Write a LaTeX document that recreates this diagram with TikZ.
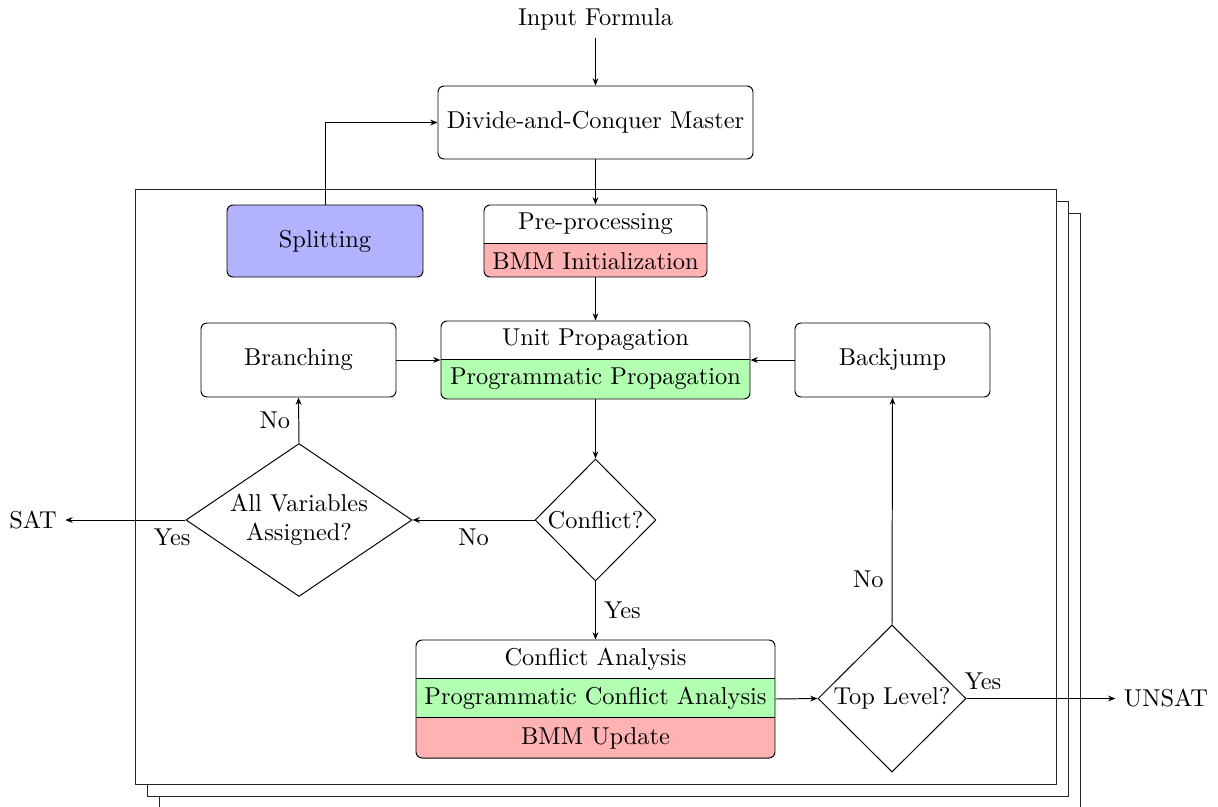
\documentclass[tikz,border=0pt]{standalone}
\usetikzlibrary{arrows.meta,shapes.geometric,fit}
\begin{document}
\begin{tikzpicture}[x=0.41pt,y=-0.41pt,
  arr/.style={-{Stealth[length=3pt,width=2.4pt]}},
  box/.style={draw, rounded corners=2.5pt, inner sep=0pt},
  frame/.style={draw=black!85, fill=white, line width=0.4pt},
  diam/.style={draw, diamond, inner sep=0pt}]
\useasboundingbox (0,0) rectangle (1218,806);

% stacked frames
\draw[frame] (159,213) rectangle (1080,808);
\draw[frame] (147,201) rectangle (1068,796);
\draw[frame] (135,189) rectangle (1056,784);

% input
\node (in) at (595.5,19) {Input Formula};

% master
\coordinate (m1) at (438,86); \coordinate (m2) at (753,159);
\node[box, fit=(m1)(m2)] (master) {};
\node (mastert) at (master.center) {Divide-and-Conquer Master};

% splitting
\coordinate (s1) at (227,205); \coordinate (s2) at (423,277);
\node[box, fill=blue!30, fit=(s1)(s2)] (split) {};
\node (splitt) at (split.center) {Splitting};

% pre-processing (split)
\coordinate (p1) at (484,205); \coordinate (p2) at (707,277);
\begin{scope}
  \clip[rounded corners=2.5pt] (p1) rectangle (p2);
  \fill[red!30] (484,243) rectangle (707,277);
\end{scope}
\node[box, fit=(p1)(p2)] (pre) {};
\draw (484,243) -- (707,243);
\node (preA) at (595.5,224) {Pre-processing};
\node (preB) at (595.5,261) {BMM Initialization};

% unit propagation (split)
\coordinate (u1) at (441,321); \coordinate (u2) at (750,399);
\begin{scope}
  \clip[rounded corners=2.5pt] (u1) rectangle (u2);
  \fill[green!30] (441,359) rectangle (750,399);
\end{scope}
\node[box, fit=(u1)(u2)] (up) {};
\draw (441,359) -- (750,359);
\node (upA) at (595.5,340) {Unit Propagation};
\node (upB) at (595.5,379) {Programmatic Propagation};

% branching / backjump
\coordinate (b1) at (201,323); \coordinate (b2) at (396,397);
\node[box, fit=(b1)(b2)] (branch) {};
\node (brancht) at (branch.center) {Branching};
\coordinate (k1) at (795,323); \coordinate (k2) at (990,397);
\node[box, fit=(k1)(k2)] (back) {};
\node (backt) at (back.center) {Backjump};

% diamonds
\node[diam, minimum width=49.6pt, minimum height=50pt] (conf) at (595.5,520) {};
\node (conft) at (conf.center) {Conflict?};
\node[diam, minimum width=92.7pt, minimum height=62.7pt] (allv) at (299,520) {};
\node[align=center] (allvt) at (allv.center) {All Variables\\Assigned?};
\node[diam, minimum width=60.7pt, minimum height=60.3pt] (top) at (892,698.5) {};
\node (topt) at (top.center) {Top Level?};

% conflict analysis (split 3)
\coordinate (c1) at (416,640); \coordinate (c2) at (775,758);
\begin{scope}
  \clip[rounded corners=2.5pt] (c1) rectangle (c2);
  \fill[green!30] (416,678) rectangle (775,717);
  \fill[red!30] (416,717) rectangle (775,758);
\end{scope}
\node[box, fit=(c1)(c2)] (ca) {};
\draw (416,678) -- (775,678);
\draw (416,717) -- (775,717);
\node (caA) at (595.5,659) {Conflict Analysis};
\node (caB) at (595.5,698) {Programmatic Conflict Analysis};
\node (caC) at (595.5,738) {BMM Update};

% outputs
\node (sat) at (33,520) {SAT};
\node (unsat) at (1166,698.5) {UNSAT};

% connectors
\draw[arr] (in) -- (master);
\draw[arr] (master) -- (pre);
\draw[arr] (split.north) |- (master.west);
\draw[arr] (pre) -- (up);
\draw[arr] (branch.east) -- (up.west);
\draw[arr] (back.west) -- (up.east);
\draw[arr] (up) -- (conf);
\draw[arr] (conf.west) -- node[below] {No} (allv.east);
\draw[arr] (allv.north) -- node[left] {No} (branch.south);
\draw[arr] (allv.west) -- node[pos=0.11, below] {Yes} (sat.east);
\draw[arr] (conf.south) -- node[right] {Yes} (ca.north);
\draw[arr] (ca.east) -- (top.west);
\draw[arr] (top.north) -- node[pos=0.2, left] {No} (back.south);
\draw[arr] (top.east) -- node[pos=0.11, above] {Yes} (unsat.west);
\end{tikzpicture}
\end{document}
